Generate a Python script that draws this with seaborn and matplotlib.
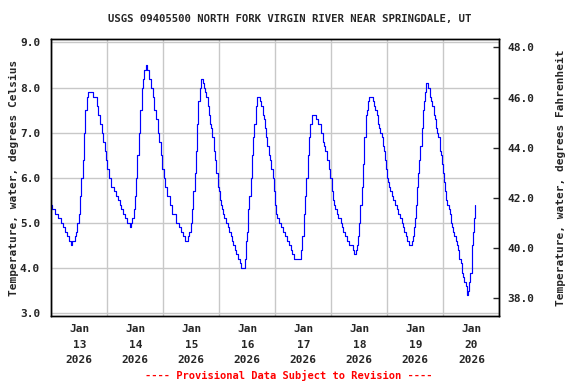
import pandas as pd
import seaborn as sns
import numpy as np
import matplotlib.pyplot as plt
import matplotlib.dates as mdates
import matplotlib.ticker as mticker

# hours after 2026-01-13 00:00 and water temperature (deg C)
hours = [0.0, 0.3, 1.4, 2.9, 4.0, 5.1, 6.0, 6.7, 7.4, 8.6, 8.9, 10.0, 10.6, 11.1, 11.7,
         12.3, 12.9, 13.4, 14.0, 14.6, 15.4, 15.9, 17.7, 19.4, 20.0, 20.9, 21.7, 22.3, 22.9,
         23.4, 24.0, 24.9, 25.7, 26.9, 27.7, 28.6, 29.3, 30.0, 30.9, 31.7, 32.4, 33.6, 34.0,
         34.7, 35.3, 36.0, 36.4, 36.9, 37.4, 38.0, 38.7, 39.3, 39.9, 40.4, 41.0, 41.9, 42.7,
         43.4, 44.0, 44.7, 45.7, 46.3, 46.9, 47.6, 48.1, 48.9, 49.6, 50.7, 51.9, 53.6, 54.7,
         55.7, 56.4, 57.4, 58.6, 59.1, 59.7, 60.3, 60.9, 61.4, 61.9, 62.3, 62.9, 63.6, 64.1,
         65.0, 65.4, 65.9, 66.4, 67.0, 67.6, 68.1, 68.6, 69.0, 69.7, 70.3, 70.7, 71.3, 71.7,
         72.1, 72.6, 73.0, 73.6, 74.1, 74.7, 75.9, 76.3, 76.9, 77.3, 78.0, 78.7, 79.3, 80.1,
         80.7, 81.3, 83.0, 83.4, 83.9, 84.4, 84.9, 85.4, 86.0, 86.4, 87.0, 87.6, 88.1, 89.6,
         90.0, 90.6, 91.0, 91.4, 92.0, 92.6, 93.1, 93.7, 94.3, 94.9, 95.4, 95.9, 96.3, 96.9,
         97.6, 98.3, 99.1, 100.1, 101.0, 101.7, 102.6, 103.3, 104.1, 107.0, 107.6, 108.1,
         108.7, 109.3, 109.9, 110.4, 111.0, 111.9, 113.6, 114.4, 115.4, 116.3, 116.9, 117.4,
         118.3, 118.9, 119.4, 120.1, 120.7, 121.3, 121.7, 122.3, 123.0, 124.0, 124.6, 125.1,
         126.0, 126.7, 127.6, 129.4, 129.9, 130.4, 130.9, 131.3, 131.9, 132.4, 133.0, 133.6,
         134.1, 134.7, 135.3, 135.8, 136.3, 138.0, 138.4, 138.9, 139.4, 140.0, 140.4, 141.0,
         141.6, 142.1, 142.6, 143.0, 143.4, 143.9, 144.4, 144.9, 145.3, 145.9, 146.6, 147.3,
         148.0, 148.7, 149.4, 150.1, 150.9, 151.3, 151.9, 152.4, 153.4, 154.7, 155.1, 155.6,
         156.0, 156.4, 156.9, 157.3, 157.6, 158.1, 158.7, 159.1, 159.6, 160.0, 160.4, 161.6,
         162.1, 162.7, 163.3, 163.9, 164.4, 164.9, 165.3, 165.9, 166.4, 166.9, 167.3, 167.7,
         168.3, 168.7, 169.1, 169.7, 170.3, 170.9, 171.3, 171.9, 172.3, 172.7, 173.3, 173.7,
         174.3, 174.9, 175.4, 175.9, 176.3, 176.9, 177.6, 178.3, 178.7, 179.1, 179.6, 180.1,
         180.4, 180.9, 181.3, 181.7]
temp_c = [5.4, 5.3, 5.2, 5.1, 5.0, 4.9, 4.8, 4.7, 4.6, 4.5, 4.6, 4.7, 4.8, 5.0, 5.2,
          5.6, 6.0, 6.4, 7.0, 7.5, 7.8, 7.9, 7.8, 7.6, 7.4, 7.2, 7.0, 6.8, 6.6,
          6.4, 6.2, 6.0, 5.8, 5.7, 5.6, 5.5, 5.4, 5.3, 5.2, 5.1, 5.0, 4.9, 5.0,
          5.1, 5.3, 5.6, 6.0, 6.5, 7.0, 7.5, 8.0, 8.2, 8.4, 8.5, 8.4, 8.2, 8.0,
          7.8, 7.5, 7.3, 7.0, 6.8, 6.5, 6.2, 6.0, 5.8, 5.6, 5.4, 5.2, 5.0, 4.9,
          4.8, 4.7, 4.6, 4.7, 4.8, 5.0, 5.3, 5.7, 6.1, 6.6, 7.2, 7.7, 8.0, 8.2,
          8.1, 8.0, 7.9, 7.8, 7.6, 7.4, 7.2, 7.1, 6.9, 6.6, 6.4, 6.1, 5.8, 5.7,
          5.5, 5.4, 5.3, 5.2, 5.1, 5.0, 4.9, 4.8, 4.7, 4.6, 4.5, 4.4, 4.3, 4.2,
          4.1, 4.0, 4.2, 4.6, 4.8, 5.3, 5.6, 6.0, 6.5, 6.9, 7.2, 7.6, 7.8, 7.7,
          7.6, 7.4, 7.3, 7.1, 6.9, 6.7, 6.5, 6.4, 6.2, 6.0, 5.7, 5.4, 5.2, 5.1,
          5.0, 4.9, 4.8, 4.7, 4.6, 4.5, 4.4, 4.3, 4.2, 4.4, 4.7, 5.2,
          5.6, 6.0, 6.5, 6.9, 7.2, 7.4, 7.3, 7.2, 7.0, 6.8, 6.7, 6.6,
          6.4, 6.2, 6.0, 5.7, 5.5, 5.4, 5.3, 5.2, 5.1, 5.0, 4.9, 4.8,
          4.7, 4.6, 4.5, 4.4, 4.3, 4.4, 4.5, 4.7, 5.0, 5.4, 5.8, 6.3,
          6.9, 7.4, 7.5, 7.7, 7.8, 7.7, 7.6, 7.5, 7.4, 7.2, 7.1, 7.0,
          6.9, 6.7, 6.6, 6.4, 6.2, 6.0, 5.9, 5.8, 5.7, 5.6, 5.5, 5.4,
          5.3, 5.2, 5.1, 5.0, 4.9, 4.8, 4.7, 4.6, 4.5, 4.6, 4.7, 4.9,
          5.1, 5.4, 5.8, 6.1, 6.4, 6.7, 7.1, 7.5, 7.7, 7.9, 8.1, 8.0,
          7.8, 7.7, 7.6, 7.4, 7.3, 7.1, 7.0, 6.9, 6.6, 6.5, 6.3, 6.1,
          5.9, 5.7, 5.5, 5.4, 5.3, 5.2, 5.0, 4.9, 4.8, 4.7, 4.6, 4.5,
          4.4, 4.2, 4.1, 3.9, 3.8, 3.7, 3.6, 3.4, 3.5, 3.7, 3.9, 4.2,
          4.5, 4.8, 5.1, 5.4]

start = pd.Timestamp('2026-01-13')
df = pd.DataFrame({'time': start + pd.to_timedelta(hours, unit='h'), 'temp': temp_c})

sns.set_style('white')
plt.rcParams['font.family'] = ['DejaVu Sans Mono']
plt.rcParams['font.weight'] = 'bold'
fs = 8

fig = plt.figure(figsize=(5.76, 3.84), dpi=100)
ax = fig.add_axes([0.089, 0.177, 0.778, 0.721])

sns.lineplot(data=df, x='time', y='temp', ax=ax, color='#0000ff', linewidth=0.85,
             drawstyle='steps-post')

# axes limits, C and F
ylo, yhi = 2.935, 9.073
ax.set_xlim(start, start + pd.Timedelta(days=8))
ax.set_ylim(ylo, yhi)

ax.xaxis.set_major_locator(mdates.DayLocator())
ax.xaxis.set_major_formatter(mticker.NullFormatter())
ax.xaxis.set_minor_locator(mdates.HourLocator(byhour=12))
ax.xaxis.set_minor_formatter(mdates.DateFormatter('%b\n%d\n%Y'))
ax.tick_params(axis='x', which='both', length=0, pad=6, labelsize=fs)
for lbl in ax.get_xticklabels(minor=True):
    lbl.set_linespacing(1.65)
    lbl.set_fontweight('bold')

ax.set_yticks(np.arange(3, 9.1, 1.0))
ax.yaxis.set_major_formatter(mticker.FormatStrFormatter('%.1f'))
ax.tick_params(axis='y', length=0, pad=8, labelsize=fs)

ax.grid(True, which='major', color='#c8c8c8', linewidth=1.0)
ax.set_axisbelow(True)
for s in ax.spines.values():
    s.set_color('black')
    s.set_linewidth(1.0)

ax.set_xlabel('')
ax.set_ylabel('Temperature, water, degrees Celsius', fontsize=fs, fontweight='bold', labelpad=1)

ax2 = ax.twinx()
ax2.set_ylim(ylo * 1.8 + 32, yhi * 1.8 + 32)
ax2.set_yticks(np.arange(38, 48.1, 2.0))
ax2.yaxis.set_major_formatter(mticker.FormatStrFormatter('%.1f'))
ax2.tick_params(axis='y', direction='in', length=4, width=1, pad=6, labelsize=fs)
ax2.set_ylabel('Temperature, water, degrees Fahrenheit', fontsize=fs, fontweight='bold', labelpad=15)
for s in ax2.spines.values():
    s.set_color('black')
    s.set_linewidth(1.0)

fig.text(0.503, 0.95, 'USGS 09405500 NORTH FORK VIRGIN RIVER NEAR SPRINGDALE, UT',
         ha='center', va='center', fontsize=7.7, fontweight='bold')
fig.text(0.502, 0.021, '---- Provisional Data Subject to Revision ----',
         ha='center', va='center', fontsize=7.5, fontweight='bold', color='red')

fig.savefig('out.png', dpi=100)
